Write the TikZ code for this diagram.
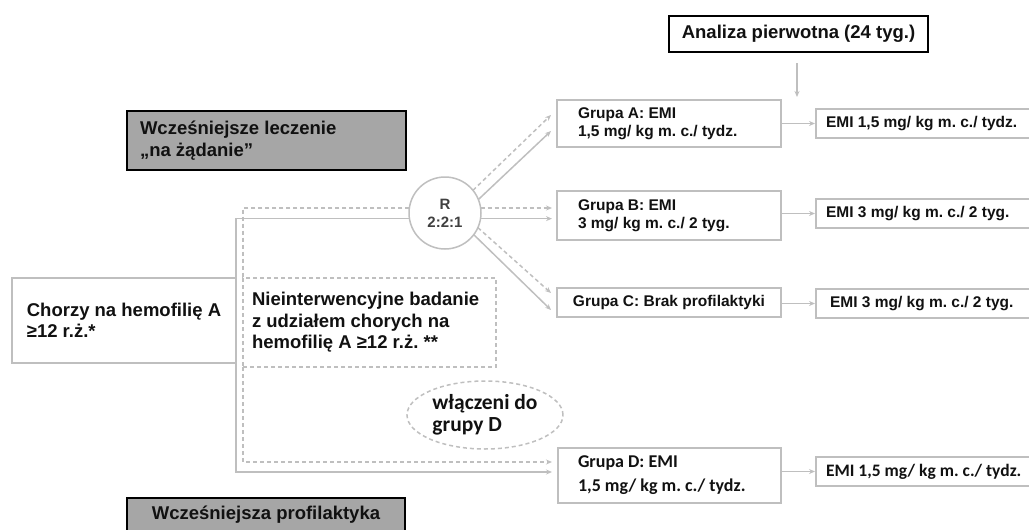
\documentclass[tikz,border=0pt]{standalone}
\usepackage{fontspec}
\setmainfont{Liberation Sans}
\newfontfamily\calfont{Carlito}
\usetikzlibrary{arrows.meta,calc,shapes.geometric}
\definecolor{lg}{HTML}{BFBFBF}
\definecolor{legfill}{HTML}{A6A6A6}
\definecolor{txt}{HTML}{111111}
\definecolor{rtxt}{HTML}{404040}
\frenchspacing
\begin{document}
\frenchspacing
\begin{tikzpicture}[x=1pt,y=-1pt,
  gline/.style={draw=lg, line width=1.5pt},
  dline/.style={draw=lg, line width=1.5pt, dash pattern=on 4pt off 3pt},
  tip/.style={-{Stealth[length=6pt,width=5pt]}},
  bigfont/.style={font=\fontsize{18.5}{21.5}\selectfont\bfseries},
  gbox/.style={draw=lg, line width=1.5pt, rectangle, outer sep=0pt, inner sep=0pt,
    text=txt, font=\fontsize{15.5}{18}\selectfont\bfseries},
  calbox/.style={gbox, font=\fontsize{18}{24}\selectfont\calfont\bfseries},
  legbox/.style={draw=black, line width=2.5pt, fill=legfill, rectangle, outer sep=0pt,
    inner sep=0pt, text=txt, bigfont},
]
\useasboundingbox (0,0) rectangle (1029,530);

% top box and legend boxes
\node[draw=black, line width=2.5pt, rectangle, outer sep=0pt, inner sep=0pt, fill=white,
  minimum width=259pt, minimum height=36pt, text=txt, bigfont] (an) at (798.5,34) {Analiza pierwotna (24 tyg.)};
\node[legbox, minimum width=279pt, minimum height=59pt, text width=253pt, align=flush left]
  (leg1) at (266.5,140.5) {Wcześniejsze leczenie\\„na żądanie''};
\node[legbox, minimum width=278pt, minimum height=50pt] (leg2) at (266,523) {};
\node[text=txt, bigfont, inner sep=0pt] (leg2t) at (266,515) {Wcześniejsza profilaktyka};

% left boxes
\node[gbox, minimum width=224pt, minimum height=85pt, align=flush left, bigfont]
  (ch) at (124,320.5) {Chorzy na hemofilię A\\≥12 r.ż.*};
\node[dline, rectangle, outer sep=0pt, inner sep=0pt, text=txt,
  minimum width=253pt, minimum height=89pt, text width=235pt, align=flush left, bigfont]
  (nb) at (369.5,322.5) {Nieinterwencyjne badanie\\z udziałem chorych na\\hemofilię A ≥12 r.ż. **};
\node[dline, ellipse, inner sep=0pt, outer sep=0pt, minimum width=156pt, minimum height=68pt,
  text=txt, align=flush left, font=\fontsize{21.5}{22.5}\selectfont\calfont\bfseries]
  (ell) at (485,415) {włączeni do\\grupy D};

% randomisation circle
\node[circle, draw=lg, line width=1.5pt, minimum size=72pt, inner sep=0pt, outer sep=0pt,
  fill=white, text=rtxt, align=center, font=\fontsize{15}{18}\selectfont\bfseries]
  (R) at (445,213) {R\\2:2:1};

% group boxes
\node[gbox, minimum width=224pt, minimum height=47pt, text width=182pt, align=flush left]
  (gA) at (669,123.5) {Grupa A: EMI\\1,5 mg/ kg m. c./ tydz.};
\node[gbox, minimum width=224pt, minimum height=49pt, text width=182pt, align=flush left]
  (gB) at (669,215.5) {Grupa B: EMI\\3 mg/ kg m. c./ 2 tyg.};
\node[gbox, minimum width=224pt, minimum height=29pt, align=center]
  (gC) at (669,302.5) {Grupa C: Brak profilaktyki};
\node[calbox, minimum width=223pt, minimum height=55pt, text width=183pt, align=flush left]
  (gD) at (669.5,475.5) {Grupa D: EMI\\1,5 mg/ kg m. c./ tydz.};

% result boxes (cut by right edge)
\node[gbox, minimum width=224pt, minimum height=29pt, text width=204pt, align=flush left]
  (rA) at (928,123.5) {EMI 1,5 mg/ kg m. c./ tydz.};
\node[gbox, minimum width=224pt, minimum height=29pt, text width=204pt, align=flush left]
  (rB) at (928,213.5) {EMI 3 mg/ kg m. c./ 2 tyg.};
\node[gbox, minimum width=224pt, minimum height=29pt, text width=204pt, align=flush left]
  (rC) at (928,303.5) {\hspace*{4pt}EMI 3 mg/ kg m. c./ 2 tyg.};
\node[calbox, minimum width=224pt, minimum height=29pt, text width=204pt, align=flush left,
  font=\fontsize{17.5}{20}\selectfont\calfont\bfseries]
  (rD) at (928,471.5) {\mbox{EMI 1,5 mg/ kg m. c./ tydz.}};

% arrow from primary analysis
\coordinate (adown) at (797,63);
\draw[gline, tip, shorten >=3pt] (adown) -- (adown |- gA.north);

% left connectors
\draw[dline] (R.172) -| (nb.north west);
\draw[dline, tip] (nb.south west) |- ($(gD.west)+(-6,-13.5)$);
\draw[gline] (R.189.6) -| (ch.north east);
\draw[gline, tip] (ch.south east) |- ($(gD.west)+(-6,-3.5)$);

% randomisation arrows
\draw[dline, tip] (R.39) -- ($(gA.west)+(-6,-8.5)$);
\draw[gline, tip] (R.22) -- ($(gA.west)+(-6,7.5)$);
\draw[dline, tip] (R.8) -- ($(R.8 -| gB.west)+(-5,0)$);
\draw[gline, tip] (R.-9.6) -- ($(R.-9.6 -| gB.west)+(-5,0)$);
\draw[dline, tip] (R.-24) -- ($(gC.west)+(-6,-9.5)$);
\draw[gline, tip] (R.-37) -- ($(gC.west)+(-6,7.5)$);

% group to result arrows
\draw[gline, tip, shorten >=1pt] (rA.west -| gA.east) -- (rA.west);
\draw[gline, tip, shorten >=1pt] (rB.west -| gB.east) -- (rB.west);
\draw[gline, tip, shorten >=1pt] (rC.west -| gC.east) -- (rC.west);
\draw[gline, tip, shorten >=1pt] (rD.west -| gD.east) -- (rD.west);
\end{tikzpicture}
\end{document}
